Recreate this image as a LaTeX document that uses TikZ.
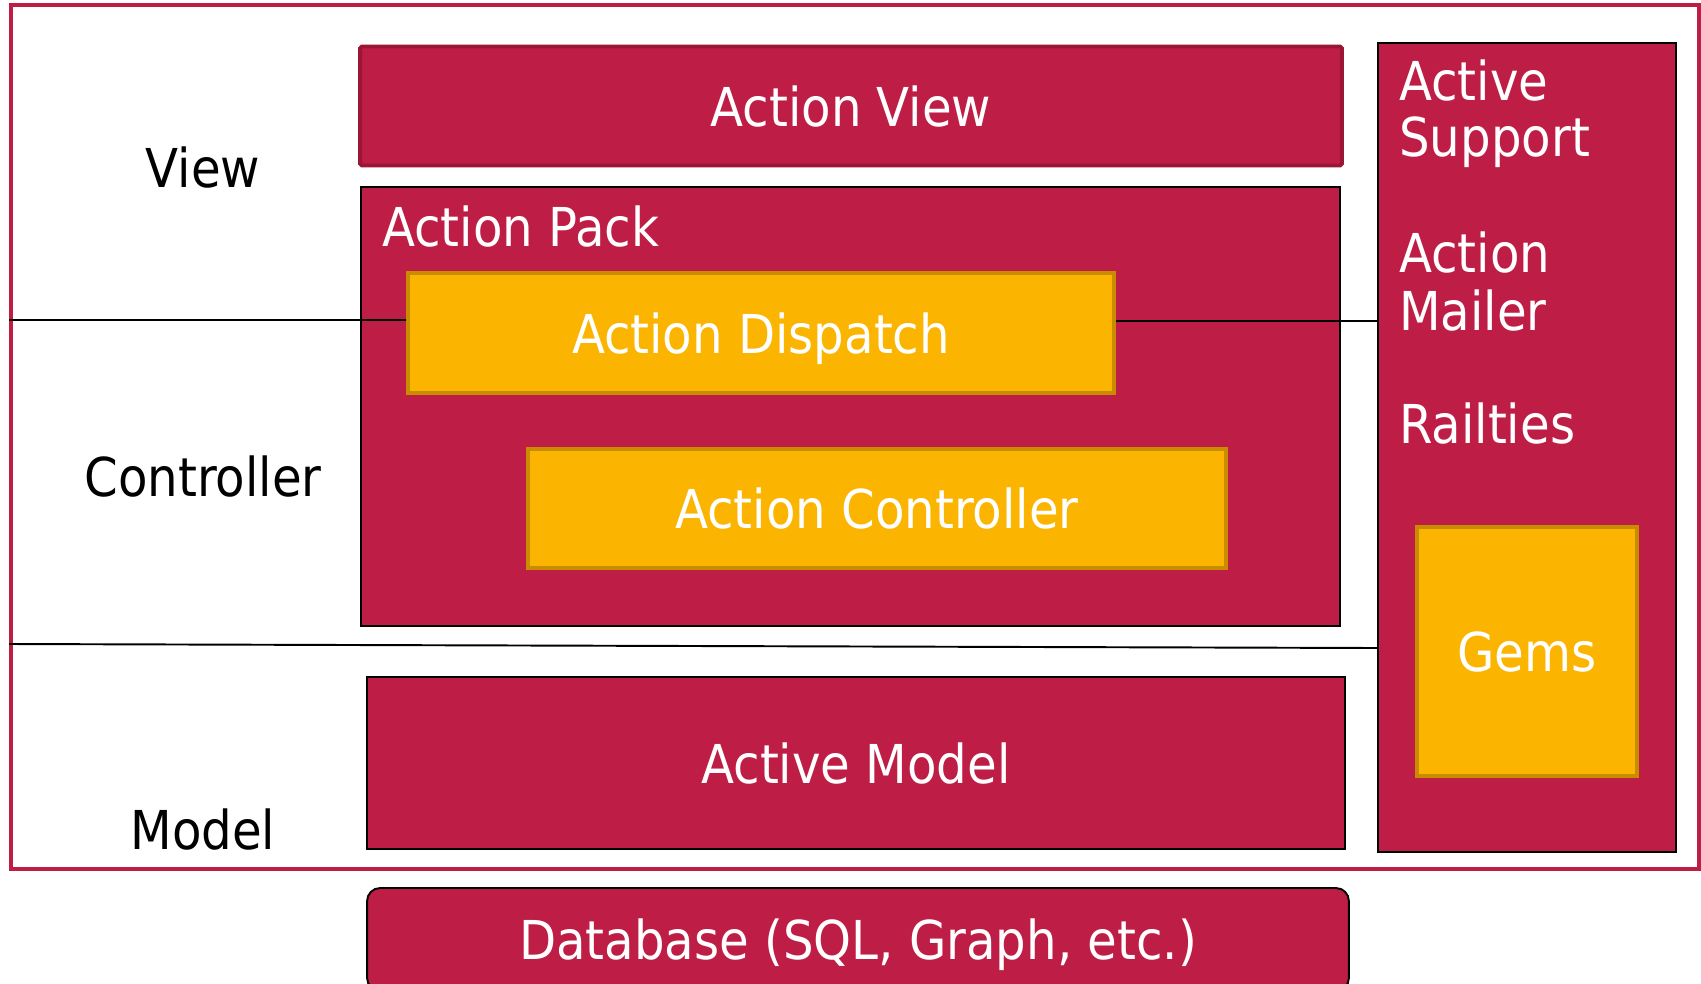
\documentclass[tikz,border=0pt]{standalone}
\usepackage{fontspec}
\setmainfont{DejaVu Sans Condensed}
\usepackage{xcolor}
\definecolor{railsred}{HTML}{BE1E45}
\definecolor{viewedge}{HTML}{9B1632}
\definecolor{railsorange}{HTML}{FBB400}
\definecolor{orangeedge}{HTML}{C98B00}

\begin{document}
\begin{tikzpicture}[
      x=0.02cm, y=-0.02cm,
      every node/.style={font=\fontsize{30.5}{32.4}\selectfont, inner sep=0pt},
      layer/.style={fill=railsred, draw=black, line width=1.1pt, text=white, text depth=0pt},
      part/.style={fill=railsorange, draw=orangeedge, line width=2.2pt, text=white, text depth=0pt},
      tier/.style={text=black},
      sep/.style={draw=black, line width=1.1pt}
    ]
      \useasboundingbox (0,0) rectangle (1701,984);
      % outer frame around the three tiers
      \node[draw=railsred, line width=2.4pt, minimum width=33.76cm, minimum height=17.28cm] (mvc) at (855,437) {};
      \node[tier] (viewlbl) at (203,168) {View};
      \node[tier] (ctrllbl) at (203,477) {Controller};
      \node[tier] (modellbl) at (203,830) {Model};
      % main stack
      \node[layer, draw=viewedge, line width=2.2pt, rounded corners=1pt, minimum width=19.64cm, minimum height=2.38cm] (view) at (851,106) {Action View};
      \node[layer, minimum width=19.58cm, minimum height=8.78cm] (pack) at (850.5,406.5) {};
      \node[anchor=west, text=white] (packlbl) at (382,227) {Action Pack};
      \node[part, minimum width=14.12cm, minimum height=2.4cm] (dispatch) at (761,333) {Action Dispatch};
      \node[part, minimum width=13.96cm, minimum height=2.38cm] (controller) at (877,508.5) {Action Controller};
      \node[layer, minimum width=19.56cm, minimum height=3.44cm] (model) at (856,763) {Active Model};
      % side column
      \node[layer, minimum width=5.96cm, minimum height=16.18cm] (side) at (1527,447.5) {};
      \node[anchor=base west, text=white] (support1) at (1399,100) {Active};
      \node[anchor=base west, text=white] (support2) at (1399,156) {Support};
      \node[anchor=base west, text=white] (mailer1) at (1399,272) {Action};
      \node[anchor=base west, text=white] (mailer2) at (1399,330) {Mailer};
      \node[anchor=base west, text=white] (railties) at (1399,443) {Railties};
      \node[part, minimum width=4.4cm, minimum height=4.98cm] (gems) at (1527,651.5) {Gems};
      % storage below the frame
      \node[layer, rounded corners=0.26cm, minimum width=19.64cm, minimum height=2.06cm] (db) at (858,939.5) {Database (SQL, Graph, etc.)};
      % tier separators
      \draw[sep] (mvc.west |- 0,320) -- (dispatch.west |- 0,320);
      \draw[sep] (dispatch.east |- 0,321) -- (side.west |- 0,321);
      \draw[sep] (mvc.west |- 0,644) -- (side.west |- 0,648);
    \end{tikzpicture}
\end{document}
